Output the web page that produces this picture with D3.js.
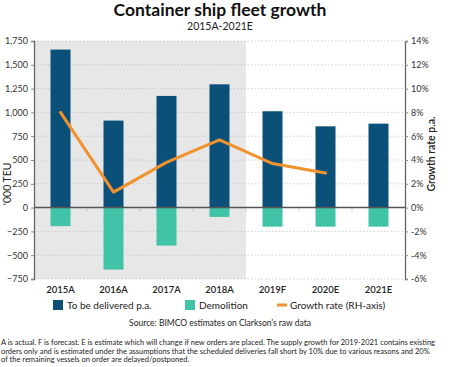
<!DOCTYPE html>
<html><head><meta charset="utf-8">
<script src="https://cdn.jsdelivr.net/npm/d3@7"></script>
<style>body{margin:0;background:#fff}svg{display:block}</style>
</head><body>
<script>
const categories = ["2015A","2016A","2017A","2018A","2019F","2020E","2021E"];
const delivered = [1660, 914, 1173, 1295, 1012, 854, 882];
const demolition = [-195, -651, -399, -98, -200, -200, -200];
const growth = [8.0, 1.3, 3.8, 5.7, 3.7, 2.9, null];
const leftTicks = [-750,-500,-250,0,250,500,750,1000,1250,1500,1750];
const rightTicks = [-6,-4,-2,0,2,4,6,8,10,12,14];
const actualCount = 4;

const W = 450, H = 367;
const svg = d3.select("body").append("svg").attr("width", W).attr("height", H);
const font = "Lato, 'Open Sans', sans-serif";
const x0 = 34, x1 = 405, yTop = 41, yBot = 279;

const x = d3.scaleBand().domain(categories).range([x0, x1]).paddingInner(0).paddingOuter(0);
const yL = d3.scaleLinear().domain([-750, 1750]).range([yBot, yTop]);
const yR = d3.scaleLinear().domain([-6, 14]).range([yBot, yTop]);

// shaded actual region
svg.append("rect").attr("x", x0).attr("y", yTop)
  .attr("width", x(categories[actualCount]) - x0).attr("height", yBot - yTop)
  .attr("fill", "#e7e7e7");

// grid
svg.append("g").selectAll("line").data(leftTicks.filter(d => d !== 0)).join("line")
  .attr("x1", x0).attr("x2", x1).attr("y1", d => yL(d)).attr("y2", d => yL(d))
  .attr("stroke", "#c4c4c4").attr("stroke-width", 0.8).attr("stroke-dasharray", "1.5,2");

const bw = 20;
svg.append("g").selectAll("rect").data(categories).join("rect")
  .attr("x", d => x(d) + x.bandwidth()/2 - bw/2).attr("width", bw)
  .attr("y", (d,i) => yL(delivered[i])).attr("height", (d,i) => yL(0) - yL(delivered[i]))
  .attr("fill", "#0b5079");
svg.append("g").selectAll("rect").data(categories).join("rect")
  .attr("x", d => x(d) + x.bandwidth()/2 - bw/2).attr("width", bw)
  .attr("y", yL(0)).attr("height", (d,i) => yL(demolition[i]) - yL(0))
  .attr("fill", "#40c3a7");

// zero line
svg.append("line").attr("x1", x0).attr("x2", x1).attr("y1", yL(0)).attr("y2", yL(0))
  .attr("stroke", "#555").attr("stroke-width", 1.5);
svg.append("g").selectAll("line").data(categories.slice(1)).join("line")
  .attr("x1", d => x(d)).attr("x2", d => x(d)).attr("y1", yL(0)+1).attr("y2", yL(0)+4)
  .attr("stroke", "#bbb").attr("stroke-width", 0.8);

// line
const pts = categories.map((c,i) => [c, growth[i]]).filter(d => d[1] != null);
svg.append("path").datum(pts)
  .attr("d", d3.line().x(d => x(d[0]) + x.bandwidth()/2).y(d => yR(d[1])))
  .attr("fill", "none").attr("stroke", "#f0922e").attr("stroke-width", 3)
  .attr("stroke-linejoin", "round").attr("stroke-linecap", "round");

// axes
const axL = svg.append("g").attr("transform", `translate(${x0},0)`)
  .call(d3.axisLeft(yL).tickValues(leftTicks).tickSize(3).tickFormat(d3.format(",")));
const axR = svg.append("g").attr("transform", `translate(${x1},0)`)
  .call(d3.axisRight(yR).tickValues(rightTicks).tickSize(3).tickFormat(d => d + "%"));
[axL, axR].forEach(a => {
  a.select(".domain").attr("stroke", "#666").attr("stroke-width", 1.3);
  a.selectAll(".tick line").attr("stroke", "#888");
  a.selectAll("text").attr("font-family", font).attr("font-size", 9).attr("fill", "#333");
});

const axX = svg.append("g").attr("transform", `translate(0,${yBot})`)
  .call(d3.axisBottom(x).tickSize(0).tickPadding(7));
axX.select(".domain").remove();
axX.selectAll("text").attr("font-family", font).attr("font-size", 9.5).attr("font-weight", 600).attr("fill", "#222");

// axis titles
svg.append("text").attr("transform", `translate(11,${yL(250)}) rotate(-90)`)
  .attr("text-anchor", "middle").attr("font-family", font).attr("font-size", 10.5).attr("fill", "#222")
  .text("'000 TEU");
svg.append("text").attr("transform", `translate(435,${yR(4.5)}) rotate(-90)`)
  .attr("text-anchor", "middle").attr("font-family", font).attr("font-size", 10.5).attr("font-weight", 600).attr("fill", "#222")
  .text("Growth rate p.a.");

// titles
svg.append("text").attr("x", 220).attr("y", 16).attr("text-anchor", "middle")
  .attr("font-family", font).attr("font-weight", 700).attr("font-size", 17.5).attr("fill", "#111")
  .text("Container ship fleet growth");
svg.append("text").attr("x", 220).attr("y", 30).attr("text-anchor", "middle")
  .attr("font-family", font).attr("font-size", 10.5).attr("fill", "#222")
  .text("2015A-2021E");

// legend
const lg = svg.append("g").attr("font-family", font).attr("font-size", 10).attr("fill", "#222");
lg.append("rect").attr("x", 53).attr("y", 300).attr("width", 10).attr("height", 10).attr("fill", "#0b5079");
lg.append("text").attr("x", 67).attr("y", 309).text("To be delivered p.a.");
lg.append("rect").attr("x", 185).attr("y", 300).attr("width", 10).attr("height", 10).attr("fill", "#40c3a7");
lg.append("text").attr("x", 199).attr("y", 309).text("Demolition");
lg.append("line").attr("x1", 277).attr("x2", 287).attr("y1", 305).attr("y2", 305)
  .attr("stroke", "#f0922e").attr("stroke-width", 3);
lg.append("text").attr("x", 290).attr("y", 309).text("Growth rate (RH-axis)");

svg.append("text").attr("x", 220).attr("y", 326).attr("text-anchor", "middle")
  .attr("font-family", font).attr("font-size", 8.5).attr("fill", "#222")
  .text("Source: BIMCO estimates on Clarkson\u2019s raw data");

const notes = [
  "A is actual. F is forecast. E is estimate which will change if new orders are placed. The supply growth for 2019-2021 contains existing",
  "orders only and is estimated under the assumptions that the scheduled deliveries fall short by 10% due to various reasons and 20%",
  "of the remaining vessels on order are delayed/postponed."
];
svg.append("g").selectAll("text").data(notes).join("text")
  .attr("x", 1).attr("y", (d,i) => 345 + i*8.7)
  .attr("font-family", font).attr("font-size", 7.5).attr("fill", "#222")
  .text(d => d);
</script>
</body></html>
